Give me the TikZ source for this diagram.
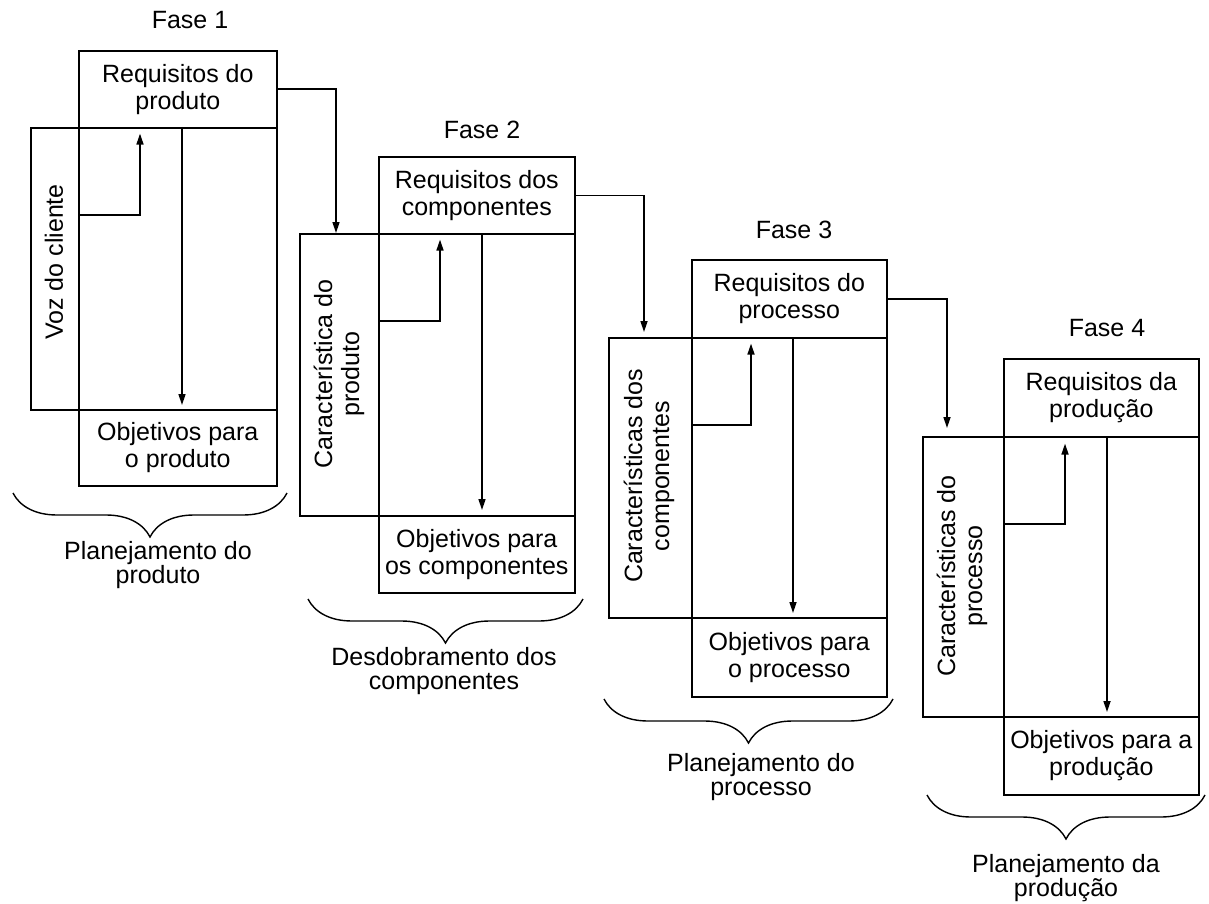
\documentclass[tikz,border=0pt]{standalone}
\usepackage{fontspec}
\setmainfont{Liberation Sans}
\usetikzlibrary{arrows.meta,decorations.pathreplacing}

\begin{document}
\begin{tikzpicture}[x=1pt,y=-1pt,
  every node/.style={font=\fontsize{25}{27}\selectfont},
  cell/.style={draw, line width=1.6pt, inner sep=0pt, anchor=north west, align=center},
  sidetext/.style={rotate=90, align=center, inner sep=0pt},
  flow/.style={line width=1.6pt, -{Triangle[length=11pt,width=7pt]}},
  bracket/.style={decorate, decoration={brace, mirror, amplitude=44pt}, line width=1.4pt},
  caption/.style={font=\fontsize{25}{24}\selectfont, align=center, inner sep=0pt},
  phasetitle/.style={inner sep=0pt}
]
\useasboundingbox (0,0) rectangle (1209,904);

% ---------- Fase 1 ----------
\node[phasetitle] (f1) at (190,20) {Fase 1};
\node[cell, minimum width=198pt, minimum height=77pt] (req1) at (78,50) {Requisitos do\\produto};
\node[cell, minimum width=198pt, minimum height=282pt] (mat1) at (78,127) {};
\node[cell, minimum width=48pt, minimum height=282pt] (row1) at (30,127) {};
\node[cell, minimum width=198pt, minimum height=76pt] (obj1) at (78,409) {Objetivos para\\o produto};
\node[sidetext] (row1t) at (54,262) {Voz do cliente};
\draw[flow, shorten >=5pt] ([yshift=-88pt]mat1.north west) -| ([xshift=62pt]req1.south west);
\draw[flow, shorten >=4pt] ([xshift=104pt]mat1.north west) -- ([xshift=104pt]obj1.north west);

% ---------- Fase 2 ----------
\node[phasetitle] (f2) at (482,130) {Fase 2};
\node[cell, minimum width=196pt, minimum height=77pt] (req2) at (378,156) {Requisitos dos\\componentes};
\node[cell, minimum width=196pt, minimum height=282pt] (mat2) at (378,233) {};
\node[cell, minimum width=79pt, minimum height=282pt] (row2) at (299,233) {};
\node[cell, minimum width=196pt, minimum height=77pt] (obj2) at (378,515) {Objetivos para\\os componentes};
\node[sidetext] (row2t) at (339,374) {Característica do\\produto};
\draw[flow, shorten >=5pt] ([yshift=-88pt]mat2.north west) -| ([xshift=62pt]req2.south west);
\draw[flow, shorten >=5pt] ([xshift=104pt]mat2.north west) -- ([xshift=104pt]obj2.north west);

% ---------- Fase 3 ----------
\node[phasetitle] (f3) at (794,230) {Fase 3};
\node[cell, minimum width=195pt, minimum height=78pt] (req3) at (691,259) {Requisitos do\\processo};
\node[cell, minimum width=195pt, minimum height=280pt] (mat3) at (691,337) {};
\node[cell, minimum width=83pt, minimum height=280pt] (row3) at (608,337) {};
\node[cell, minimum width=195pt, minimum height=79pt] (obj3) at (691,617) {Objetivos para\\o processo};
\node[sidetext] (row3t) at (649,476) {Características dos\\componentes};
\draw[flow, shorten >=5pt] ([yshift=-88pt]mat3.north west) -| ([xshift=60pt]req3.south west);
\draw[flow, shorten >=4pt] ([xshift=102pt]mat3.north west) -- ([xshift=102pt]obj3.north west);

% ---------- Fase 4 ----------
\node[phasetitle] (f4) at (1107,328) {Fase 4};
\node[cell, minimum width=195pt, minimum height=78pt] (req4) at (1003,358) {Requisitos da\\produção};
\node[cell, minimum width=195pt, minimum height=280pt] (mat4) at (1003,436) {};
\node[cell, minimum width=81pt, minimum height=280pt] (row4) at (922,436) {};
\node[cell, minimum width=195pt, minimum height=78pt] (obj4) at (1003,716) {Objetivos para a\\produção};
\node[sidetext] (row4t) at (962,576) {Características do\\processo};
\draw[flow, shorten >=6pt] ([yshift=-88pt]mat4.north west) -| ([xshift=62pt]req4.south west);
\draw[flow, shorten >=4pt] ([xshift=104pt]mat4.north west) -- ([xshift=104pt]obj4.north west);

% ---------- links between phases ----------
\draw[flow] (req1.east) -| ([xshift=37pt]row2.north west);
\draw[flow, shorten >=5pt] (req2.east) -| ([xshift=36pt]row3.north west);
\draw[flow, shorten >=8pt] (req3.east) -| ([xshift=25pt]row4.north west);

% ---------- braces and their captions ----------
\coordinate (b1l) at (13,493);  \coordinate (b1r) at (287,493);
\coordinate (b2l) at (308,599); \coordinate (b2r) at (583,599);
\coordinate (b3l) at (604,699); \coordinate (b3r) at (893,699);
\coordinate (b4l) at (927,795); \coordinate (b4r) at (1205,795);
\draw[bracket] (b1l) -- (b1r);
\draw[bracket] (b2l) -- (b2r);
\draw[bracket] (b3l) -- (b3r);
\draw[bracket] (b4l) -- (b4r);
\node[caption] (c1) at (158,565) {Planejamento do\\produto};
\node[caption] (c2) at (444,671) {Desdobramento dos\\componentes};
\node[caption] (c3) at (761,777) {Planejamento do\\processo};
\node[caption] (c4) at (1066,878) {Planejamento da\\produção};
\end{tikzpicture}
\end{document}
